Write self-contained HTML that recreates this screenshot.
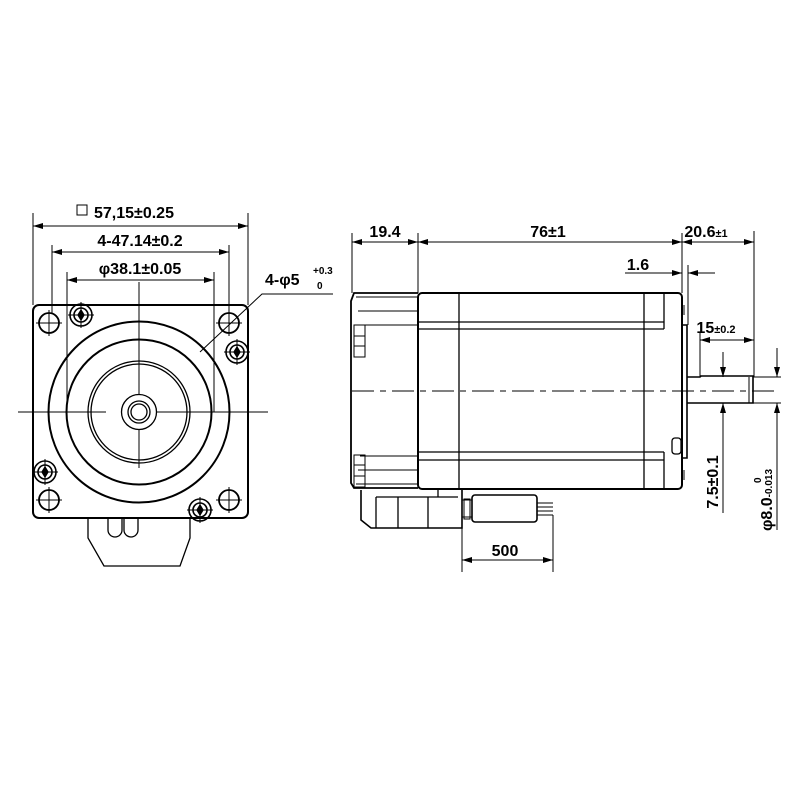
<!DOCTYPE html>
<html><head><meta charset="utf-8"><style>html,body{margin:0;padding:0;background:#fff}svg{display:block}text{font-family:"Liberation Sans",sans-serif;font-weight:bold;fill:#000}</style></head>
<body>
<svg width="800" height="800" viewBox="0 0 800 800" xmlns="http://www.w3.org/2000/svg">
<defs>
<marker id="a" viewBox="0 0 10 6" refX="10" refY="3" markerWidth="10" markerHeight="6" orient="auto-start-reverse" markerUnits="userSpaceOnUse"><path d="M0,0L10,3L0,6z" fill="#000"/></marker>
</defs>
<g stroke="#000" fill="none" stroke-width="1.3">
<!-- LEFT VIEW -->
<rect x="33" y="305" width="215" height="213" rx="6" stroke-width="2"/>
<circle cx="139" cy="412" r="90.5" stroke-width="2"/>
<circle cx="139" cy="412" r="72.5" stroke-width="2"/>
<circle cx="139" cy="412" r="51"/>
<circle cx="139" cy="412" r="48"/>
<circle cx="139" cy="412" r="17.5"/>
<circle cx="139" cy="412" r="11"/>
<circle cx="139" cy="412" r="8"/>
<g stroke-width="1.8">
<circle cx="49" cy="323" r="10"/><circle cx="229" cy="323" r="10"/>
<circle cx="49" cy="500" r="10"/><circle cx="229" cy="500" r="10"/>
</g>
<path d="M36,323h26M49,310v26M216,323h26M229,310v26M36,500h26M49,487v26M216,500h26M229,487v26" stroke-width="1"/>
<g stroke-width="1.6">
<circle cx="81" cy="315" r="11"/><circle cx="81" cy="315" r="7"/>
<circle cx="237" cy="352" r="11"/><circle cx="237" cy="352" r="7"/>
<circle cx="45" cy="472" r="11"/><circle cx="45" cy="472" r="7"/>
<circle cx="200" cy="510" r="11"/><circle cx="200" cy="510" r="7"/>
</g>
<path d="M68,315h26M81,302v26M224,352h26M237,339v26M32,472h26M45,459v26M187,510h26M200,497v26" stroke-width="1"/>
<path d="M81,310l3,5l-3,5l-3,-5zM237,347l3,5l-3,5l-3,-5zM45,467l3,5l-3,5l-3,-5zM200,505l3,5l-3,5l-3,-5z" fill="#000"/>
<!-- centerlines -->
<path d="M18,412h88M156,412h112M139,282v112M139,430v38" stroke-width="1"/>
<!-- bottom connector -->
<path d="M88,518v20l16,28h76l10,-28v-20M104,566h76M108,518v12a7,7 0 0 0 14,0v-12M124,518v12a7,7 0 0 0 14,0v-12"/>
<!-- dims left -->
<g stroke-width="1">
<path d="M33,305v-92M248,305v-92M52,313v-68M229,313v-68M67,412v-140M214,412v-140"/>
<path d="M33,226H248" marker-start="url(#a)" marker-end="url(#a)"/>
<path d="M52,252H229" marker-start="url(#a)" marker-end="url(#a)"/>
<path d="M67,280H214" marker-start="url(#a)" marker-end="url(#a)"/>
<path d="M333,294H262L200,352"/>
</g>
<rect x="77" y="205" width="10" height="10" stroke-width="1"/>
<!-- RIGHT VIEW -->
<path d="M418,293H354l-3,8v182l3,5h64" stroke-width="1.8"/>
<path d="M418,297H356M418,311H358M418,325H360M418,456H360M418,470H358M418,484H356" stroke-width="1"/>
<rect x="354" y="325" width="11" height="32" stroke-width="1"/>
<path d="M354,336h11M354,346h11M354,455h11M354,465h11M354,476h11" stroke-width="1"/>
<rect x="354" y="455" width="11" height="32" stroke-width="1"/>
<rect x="418" y="293" width="264" height="196" rx="4" stroke-width="2"/>
<path d="M459,293v196M644,293v196M664,293v36M664,452v37"/>
<path d="M418,322H664M418,329H664M418,452H664M418,460H664"/>
<path d="M682,325h5v133h-5" stroke-width="1.6"/>
<path d="M684,305v10M684,470v10" stroke-width="1"/>
<rect x="672" y="438" width="9" height="16" rx="3" stroke-width="1.3"/>
<path d="M687,377H700l1,-1h52v27H687" stroke-width="1.6"/>
<path d="M749,377v26" stroke-width="1"/>
<path d="M352,391H780" stroke-width="1" stroke-dasharray="22,6,6,6"/>
<!-- connector -->
<path d="M361,490v30l10,8h91v-38" stroke-width="1.6"/>
<path d="M376,497h82M376,497v31M398,497v31M428,497v31M438,490v7M462,497" stroke-width="1.3"/>
<rect x="472" y="495" width="65" height="27" rx="3" stroke-width="1.6"/>
<path d="M462,500h10M462,517h10M537,503h16M537,507h16M537,511h16M537,515h16" stroke-width="1"/>
<rect x="464" y="499" width="6" height="20" stroke-width="1"/>
<!-- dims right -->
<g stroke-width="1">
<path d="M352,293v-60M418,293v-60M682,293v-60M754,377v-146M688,325v-60"/>
<path d="M352,242H418" marker-start="url(#a)" marker-end="url(#a)"/>
<path d="M418,242H682" marker-start="url(#a)" marker-end="url(#a)"/>
<path d="M682,242H754" marker-start="url(#a)" marker-end="url(#a)"/>
<path d="M625,273H682" marker-end="url(#a)"/>
<path d="M715,273H688" marker-end="url(#a)"/>
<path d="M700,377v-45"/>
<path d="M700,340H754" marker-start="url(#a)" marker-end="url(#a)"/>
<path d="M753,377h28M753,403h28"/>
<path d="M723,352V377" marker-end="url(#a)"/>
<path d="M723,513V403" marker-end="url(#a)"/>
<path d="M723,377v-2M723,391v0"/>
<path d="M777,348V377" marker-end="url(#a)"/>
<path d="M777,530V403" marker-end="url(#a)"/>
<path d="M462,528v44M553,515v57"/>
<path d="M462,560H553" marker-start="url(#a)" marker-end="url(#a)"/>
</g>
</g>
<g font-size="16">
<text x="94" y="218">57,15±0.25</text>
<text x="140" y="246" text-anchor="middle">4-47.14±0.2</text>
<text x="140" y="274" text-anchor="middle">φ38.1±0.05</text>
<text x="265" y="285">4-φ5</text>
<text x="385" y="237" text-anchor="middle">19.4</text>
<text x="548" y="237" text-anchor="middle">76±1</text>
<text x="706" y="237" text-anchor="middle">20.6<tspan font-size="11">±1</tspan></text>
<text x="638" y="270" text-anchor="middle">1.6</text>
<text x="716" y="333" text-anchor="middle">15<tspan font-size="11">±0.2</tspan></text>
<text x="505" y="556" text-anchor="middle">500</text>
<text transform="translate(718,482) rotate(-90)" text-anchor="middle">7.5±0.1</text>
<text transform="translate(772,500) rotate(-90)" text-anchor="middle">φ8.0<tspan font-size="10">-0.013</tspan></text>
</g>
<g font-size="10">
<text x="313" y="274">+0.3</text>
<text x="317" y="289">0</text>
<text transform="translate(761,483) rotate(-90)">0</text>
</g>
</svg>
</body></html>
